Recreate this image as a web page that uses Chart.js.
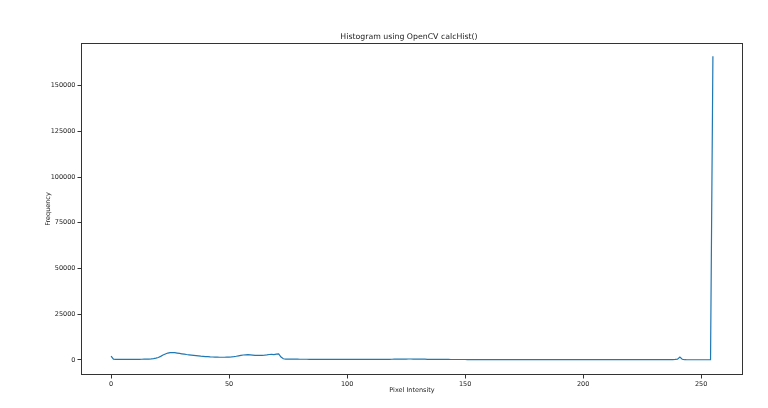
<!DOCTYPE html>
<html>
<head>
<meta charset="utf-8">
<script src="https://cdn.jsdelivr.net/npm/chart.js@4"></script>
<style>
  html, body { margin: 0; padding: 0; background: #fff; }
  canvas { display: block; }
</style>
</head>
<body>
<canvas id="hist" width="768" height="408"></canvas>
<script>
// pixel intensity bins 0..255
const bins = Array.from({ length: 256 }, (_, i) => i);

// counts per bin
const counts = [
  2000, 400, 200, 250, 250, 260, 260, 270, 270, 280, 280, 290, 300, 310, 330,
  350, 400, 500, 650, 900, 1300, 1900, 2600, 3200, 3700, 3900, 4000, 3900, 3700, 3500,
  3300, 3100, 2900, 2750, 2600, 2450, 2300, 2150, 2000, 1900, 1800, 1700, 1600, 1550, 1500,
  1450, 1400, 1400, 1400, 1450, 1500, 1600, 1750, 1950, 2200, 2450, 2650, 2750, 2800, 2750,
  2600, 2450, 2400, 2500, 2450, 2550, 2700, 2900, 3000, 2900, 3100, 3300, 1500, 600, 400,
  380, 360, 350, 340, 330, 320, 320, 310, 310, 300, 300, 300, 290, 290, 290,
  280, 280, 280, 280, 270, 270, 270, 270, 260, 260, 260, 260, 250, 250, 250,
  250, 250, 240, 240, 240, 240, 240, 240, 250, 250, 260, 270, 280, 300, 320,
  340, 360, 380, 400, 420, 430, 440, 440, 430, 420, 400, 380, 350, 330, 300,
  280, 260, 250, 240, 230, 220, 210, 200, 200, 190, 190, 180, 180, 170, 170,
  170, 160, 160, 160, 150, 150, 150, 150, 140, 140, 140, 140, 140, 130, 130,
  130, 130, 130, 130, 130, 120, 120, 120, 120, 120, 120, 120, 120, 110, 110,
  110, 110, 110, 110, 110, 110, 110, 110, 110, 110, 110, 110, 110, 110, 110,
  110, 110, 110, 110, 110, 100, 100, 100, 100, 100, 100, 100, 100, 100, 100,
  100, 100, 100, 100, 100, 100, 100, 100, 100, 100, 100, 100, 100, 100, 100,
  100, 100, 100, 100, 100, 100, 100, 100, 100, 100, 110, 120, 130, 150, 200,
  400, 1500, 300, 60, 50, 50, 50, 50, 50, 50, 50, 50, 50, 50, 50,
  166000
];

const xTicks = [0, 50, 100, 150, 200, 250];
const yTicks = [0, 25000, 50000, 75000, 100000, 125000, 150000];

const textColor = '#222';
const frameColor = '#333';
const tickFont = { family: 'DejaVu Sans', size: 6.5 };

// four spines as solid 1px rects, plus the title
const framePlugin = {
  id: 'frame',
  afterDraw(chart) {
    const { ctx, chartArea: a } = chart;
    const l = Math.round(a.left), r = Math.round(a.right);
    const t = Math.round(a.top), b = Math.round(a.bottom);
    ctx.save();
    ctx.fillStyle = frameColor;
    ctx.fillRect(l, t, r - l, 1);
    ctx.fillRect(l, b - 1, r - l, 1);
    ctx.fillRect(l, t, 1, b - t);
    ctx.fillRect(r - 1, t, 1, b - t);
    ctx.fillStyle = textColor;
    ctx.font = '7.8px "DejaVu Sans"';
    ctx.textAlign = 'center';
    ctx.textBaseline = 'alphabetic';
    ctx.fillText('Histogram using OpenCV calcHist()', (a.left + a.right) / 2 - 3, a.top - 4);
    ctx.restore();
  }
};

new Chart(document.getElementById('hist'), {
  type: 'line',
  data: {
    datasets: [{
      data: bins.map((b, i) => ({ x: b, y: counts[i] })),
      borderColor: '#1f77b4',
      borderWidth: 1.2,
      pointRadius: 0,
      tension: 0,
      fill: false
    }]
  },
  options: {
    responsive: false,
    animation: false,
    devicePixelRatio: 1,
    layout: { padding: { top: 43, right: 25, left: 0, bottom: 0 } },
    plugins: { legend: { display: false }, tooltip: { enabled: false } },
    scales: {
      x: {
        type: 'linear',
        min: -12.75,
        max: 267.75,
        afterBuildTicks: s => { s.ticks = xTicks.map(v => ({ value: v })); },
        afterFit: s => { s.height = 33; },
        grid: { drawOnChartArea: false, drawTicks: true, tickLength: 3.5, color: frameColor },
        border: { display: false },
        ticks: { color: textColor, font: tickFont, padding: 2, maxRotation: 0 },
        title: { display: true, text: 'Pixel Intensity', color: textColor,
                 font: { family: 'DejaVu Sans', size: 6.5 }, padding: { top: 0, bottom: 14 } }
      },
      y: {
        type: 'linear',
        min: -8300,
        max: 173300,
        afterBuildTicks: s => { s.ticks = yTicks.map(v => ({ value: v })); },
        afterFit: s => { s.width = 81; },
        grid: { drawOnChartArea: false, drawTicks: true, tickLength: 3.5, color: frameColor },
        border: { display: false },
        ticks: { color: textColor, font: tickFont, padding: 2, callback: v => String(v) },
        title: { display: true, text: 'Frequency', color: textColor,
                 font: { family: 'DejaVu Sans', size: 6.5 }, padding: { top: 44, bottom: 0 } }
      }
    }
  },
  plugins: [framePlugin]
});
</script>
</body>
</html>
